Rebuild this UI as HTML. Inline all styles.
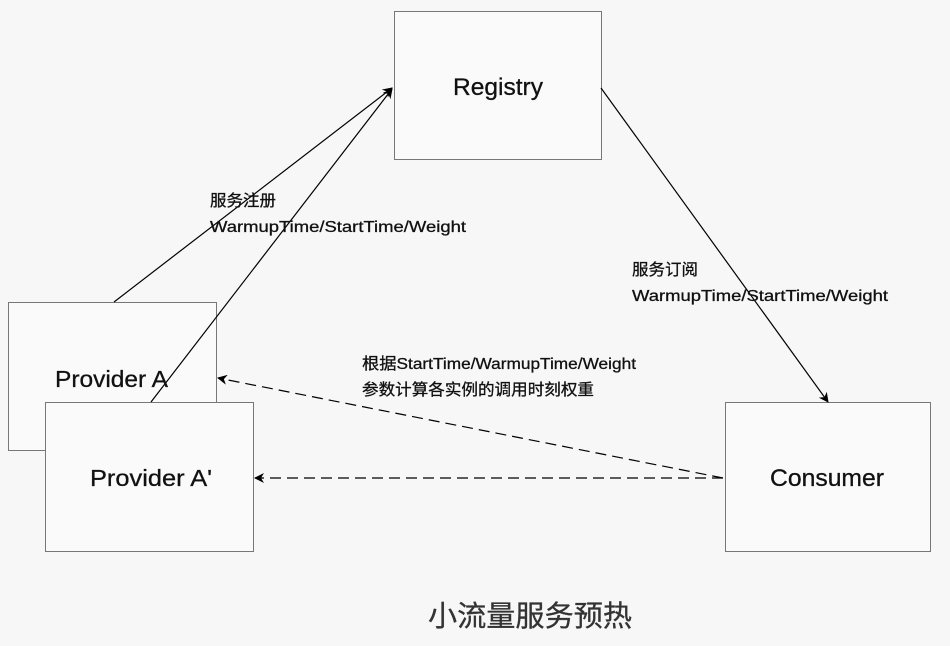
<!DOCTYPE html>
<html><head><meta charset="utf-8"><style>
html,body{margin:0;padding:0;background:#f7f7f7;}
svg{display:block;}
text{font-family:"Liberation Sans","Noto Sans CJK SC",sans-serif;fill:#111;stroke:#111;stroke-width:0.3;}
</style></head><body>
<svg width="950" height="646" viewBox="0 0 950 646" xmlns="http://www.w3.org/2000/svg">
<defs>
<marker id="a" viewBox="0 0 10 10" refX="9" refY="5" markerWidth="10" markerHeight="10" markerUnits="userSpaceOnUse" orient="auto">
<path d="M0,0 L10,5 L0,10 L3,5 z" fill="#000"/></marker>
</defs>
<g fill="#fafafa" stroke="#777" stroke-width="1">
<rect x="394.5" y="11.5" width="207" height="148"/>
<rect x="8.5" y="302.5" width="208" height="148"/>
<rect x="45.5" y="402.5" width="208" height="149"/>
<rect x="725.5" y="402.5" width="205" height="149"/>
</g>
<g stroke="#000" stroke-width="1.2" fill="none">
<line x1="114" y1="302" x2="392" y2="88" marker-end="url(#a)"/>
<line x1="151" y1="402" x2="392" y2="89" marker-end="url(#a)"/>
<line x1="601" y1="88" x2="828" y2="402" marker-end="url(#a)"/>
<line x1="723" y1="478" x2="218" y2="378" stroke-dasharray="11,6" marker-end="url(#a)"/>
<line x1="723" y1="478" x2="255" y2="478" stroke-dasharray="11,6" marker-end="url(#a)"/>
</g>
<text x="453" y="95" font-size="24" textLength="90" lengthAdjust="spacingAndGlyphs">Registry</text>
<text x="55" y="387" font-size="23" textLength="113" lengthAdjust="spacingAndGlyphs">Provider A</text>
<text x="90" y="486" font-size="23" textLength="122" lengthAdjust="spacingAndGlyphs">Provider A'</text>
<text x="770" y="486" font-size="24" textLength="114" lengthAdjust="spacingAndGlyphs">Consumer</text>
<text x="210" y="206" font-size="16" textLength="66" lengthAdjust="spacingAndGlyphs">服务注册</text>
<text x="210" y="232" font-size="16" textLength="256" lengthAdjust="spacingAndGlyphs">WarmupTime/StartTime/Weight</text>
<text x="632" y="275" font-size="16" textLength="66" lengthAdjust="spacingAndGlyphs">服务订阅</text>
<text x="632" y="301" font-size="16" textLength="256" lengthAdjust="spacingAndGlyphs">WarmupTime/StartTime/Weight</text>
<text x="362" y="369" font-size="16" textLength="274" lengthAdjust="spacingAndGlyphs">根据StartTime/WarmupTime/Weight</text>
<text x="362" y="395" font-size="16" textLength="232" lengthAdjust="spacingAndGlyphs">参数计算各实例的调用时刻权重</text>
<text x="428" y="626" font-size="29" textLength="204" lengthAdjust="spacingAndGlyphs" style="fill:#333;stroke:#333">小流量服务预热</text>
</svg>
</body></html>
